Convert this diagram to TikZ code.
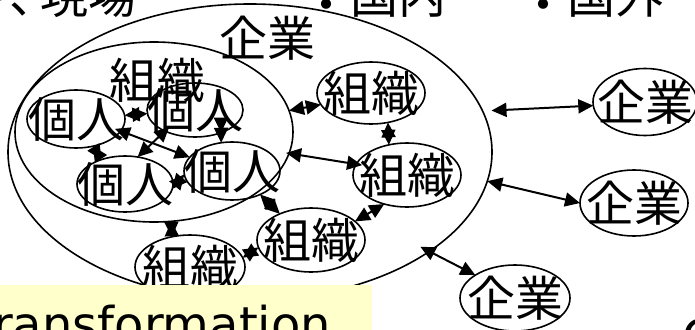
\documentclass[tikz,border=0pt]{standalone}
\usepackage{fontspec}
\setmainfont{DejaVu Sans}
\newfontfamily\cjk{Noto Sans CJK JP}
\usetikzlibrary{arrows.meta,shapes.geometric}
\definecolor{paleyellow}{HTML}{FFFFCC}
\begin{document}
\begin{tikzpicture}[x=1pt,y=-1pt,
  blob/.style={draw, ellipse, line width=1.6pt, inner sep=0pt, outer sep=0pt},
  jp/.style={font=\cjk\fontsize{48}{48}\selectfont, inner sep=0pt},
  lat/.style={font=\fontsize{48}{48}\selectfont, inner sep=0pt},
  link/.style={line width=2pt, {Triangle[length=15pt,width=14pt]}-{Triangle[length=15pt,width=14pt]}},
]
\useasboundingbox (0,0) rectangle (695,329);
\clip (0,0) rectangle (695,329);

% top line of text
\node[jp, anchor=base east] (t1) at (137,14) {ト、\kern-17pt現場};
\node[jp, anchor=base west] (t2) at (302,14) {\raisebox{-9pt}{・}国内};
\node[jp, anchor=base west] (t3) at (519,14) {\raisebox{-9pt}{・}国外};

% enterprise and organisation
\node[blob, minimum width=484pt, minimum height=296pt] (ent) at (250,152) {};
\node[jp] (entlbl) at (267,38) {企業};
\node[blob, minimum width=278pt, minimum height=180pt] (org) at (154,132) {};
\node[jp] (orglbl) at (157,80) {組織};

% individuals
\node[blob, minimum width=98pt, minimum height=58pt, label={[jp]center:個人}] (pA) at (76,119) {};
\node[blob, minimum width=96pt, minimum height=54pt, label={[jp]center:個人}] (pB) at (195,110) {};
\node[blob, minimum width=96pt, minimum height=56pt, label={[jp]center:個人}] (pC) at (125,184) {};
\node[blob, minimum width=96pt, minimum height=58pt, label={[jp]center:個人}] (pD) at (232,171) {};

% organisations
\node[blob, minimum width=108pt, minimum height=62pt, label={[jp]center:組織}] (o5) at (371,93) {};
\node[blob, minimum width=108pt, minimum height=64pt, label={[jp]center:組織}] (o6) at (407,175) {};
\node[blob, minimum width=108pt, minimum height=64pt, label={[jp]center:組織}] (o7) at (311,240) {};
\node[blob, minimum width=110pt, minimum height=64pt, label={[jp]center:組織}] (o8) at (190,267) {};

% other enterprises
\node[blob, minimum width=104pt, minimum height=67pt, label={[jp]center:企業}] (e9) at (645,102) {};
\node[blob, minimum width=108pt, minimum height=66pt, label={[jp]center:企業}] (e10) at (634,203) {};
\node[blob, minimum width=110pt, minimum height=66pt, label={[jp]center:企業}] (e11) at (515,298) {};

% connectors
\draw[link] (pA) -- (pB);
\draw[link] (pA.-58) -- (pC.134);
\draw[link, shorten <=-6pt] (pA.-15) -- (pD.162);
\draw[link, shorten <=-6pt] (pB.215) -- (pC.65);
\draw[link] (pB.-41) -- (pD.111);
\draw[link] (pC.-6) -- (pD.184);
\draw[link] (pD.-40) -- (o7.140);
\draw[link] (org.-79) -- (o8.121);
\draw[link] (o8.10) -- (o7.188);
\draw[link] (o7.23) -- (o6.232);
\draw[link] (o5.-60) -- (o6.121);
\draw[link] (org.9) -- (o5.193);
\draw[link, shorten <=-3pt, shorten >=-6pt] (org.-9) -- (o6.168);
\draw[link, shorten <=9pt] (ent.10) -- (e9.184);
\draw[link] (ent.-7) -- (e10.180);
\draw[link, shorten <=-10pt] (ent.-29) -- (e11.150);

% bottom banner
\node[fill=paleyellow, anchor=north west, minimum width=377pt, minimum height=60pt, inner sep=0pt] (banner) at (-5,285) {};
\node[lat, anchor=base west] (bannertxt) at (-7,341) {ransformation};
\node[lat, anchor=base west] (corner) at (682,354) {C};
\end{tikzpicture}
\end{document}
